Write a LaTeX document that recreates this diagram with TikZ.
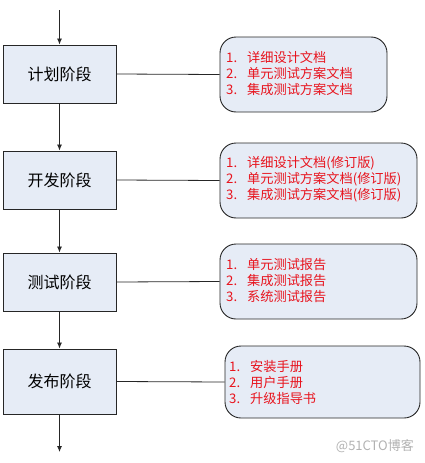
\documentclass[tikz,border=0pt]{standalone}
\usepackage{fontspec}
\newfontfamily\cjk{Noto Sans CJK SC}
\usetikzlibrary{arrows.meta}
\definecolor{boxfill}{HTML}{E6ECF6}
\definecolor{txtred}{HTML}{E8141E}
\tikzset{
  phase/.style={draw=black!85, line width=0.9pt, fill=boxfill, minimum width=113pt, inner sep=0pt, font=\cjk\fontsize{16}{16}\selectfont},
  docbox/.style={draw=black!85, line width=0.9pt, fill=boxfill, rounded corners=16pt, inner sep=0pt},
  doctext/.style={anchor=west, align=left, text=txtred, inner sep=0pt, font=\cjk\fontsize{13.2}{16}\selectfont},
  flow/.style={draw=black!85, line width=0.8pt, -{Latex[length=6pt,width=5pt]}},
  link/.style={draw=black!85, line width=0.8pt}
}
\newcommand{\itm}[1]{\makebox[21pt][l]{#1}}
\begin{document}
\begin{tikzpicture}[x=1pt,y=-1pt]
\useasboundingbox (0,0) rectangle (424,463);
% left phase boxes
\node[phase, minimum height=58pt] (p1) at (59.5,74) {计划阶段};
\node[phase, minimum height=58pt] (p2) at (59.5,180) {开发阶段};
\node[phase, minimum height=58pt] (p3) at (59.5,282) {测试阶段};
\node[phase, minimum height=65pt] (p4) at (59.5,381.5) {发布阶段};
\coordinate (top) at (59.5,10);
\coordinate (bot) at (59.5,452);
% right doc boxes
\node[docbox, minimum width=167pt, minimum height=75pt] (d1) at (303.5,74.5) {};
\node[docbox, minimum width=197pt, minimum height=75pt] (d2) at (318.5,180.5) {};
\node[docbox, minimum width=197pt, minimum height=75pt] (d3) at (318.5,281.5) {};
\node[docbox, minimum width=195pt, minimum height=72pt] (d4) at (322.5,382) {};
% texts
\node[doctext] (t1) at (226,73) {\itm{1.}详细设计文档\\\itm{2.}单元测试方案文档\\\itm{3.}集成测试方案文档};
\node[doctext] (t2) at (226,179) {\itm{1.}详细设计文档(修订版)\\\itm{2.}单元测试方案文档(修订版)\\\itm{3.}集成测试方案文档(修订版)};
\node[doctext] (t3) at (226,281) {\itm{1.}单元测试报告\\\itm{2.}集成测试报告\\\itm{3.}系统测试报告};
\node[doctext] (t4) at (229,382) {\itm{1.}安装手册\\\itm{2.}用户手册\\\itm{3.}升级指导书};
% connectors
\draw[flow] (top) -- (p1);
\draw[flow] (p1) -- (p2);
\draw[flow] (p2) -- (p3);
\draw[flow] (p3) -- (p4);
\draw[flow] (p4) -- (bot);
\draw[link] (p1.east) -- (d1.west);
\draw[link] (p2.east) -- (d2.west);
\draw[link] (p3.east) -- (d3.west);
\draw[link] (p4.east) -- (d4.west);
% watermark
\node[text=black!30, font=\cjk\fontsize{13}{13}\selectfont, anchor=east, inner sep=0pt] (wm) at (414,446) {@51CTO博客};
\end{tikzpicture}
\end{document}
